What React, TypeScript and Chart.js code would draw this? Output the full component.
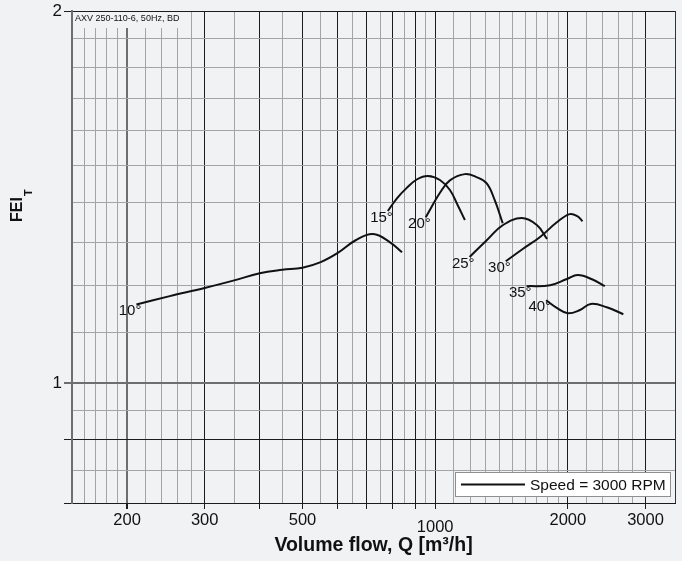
import React, { useEffect, useRef } from 'react';
import { Chart, registerables } from 'chart.js';

Chart.register(...registerables);

const FONT = '"Liberation Sans", Arial, Helvetica, sans-serif';
const BG = '#f1f2f4';

// ---- data ----
const angleLabels = ['10°', '15°', '20°', '25°', '30°', '35°', '40°'];

const flow10 = [210, 250, 300, 350, 400, 450, 500, 550, 600, 660, 723, 790, 841];
const fei10 = [1.158, 1.176, 1.194, 1.211, 1.227, 1.235, 1.24, 1.253, 1.274, 1.305, 1.32, 1.3, 1.276];

const flow15 = [781, 819, 861, 910, 963, 1025, 1080, 1125, 1168];
const fei15 = [1.378, 1.411, 1.438, 1.462, 1.471, 1.46, 1.433, 1.393, 1.355];

const flow20 = [952, 1027, 1080, 1168, 1240, 1309, 1365, 1423];
const fei20 = [1.362, 1.427, 1.459, 1.476, 1.468, 1.451, 1.406, 1.347];

const flow25 = [1197, 1309, 1423, 1571, 1703, 1794];
const fei25 = [1.265, 1.305, 1.342, 1.36, 1.342, 1.308];

const flow30 = [1446, 1580, 1730, 1891, 2019, 2100, 2159];
const fei30 = [1.255, 1.284, 1.313, 1.35, 1.37, 1.365, 1.352];

const flow35 = [1612, 1822, 1990, 2106, 2275, 2426];
const fei35 = [1.198, 1.2, 1.214, 1.223, 1.213, 1.198];

const flow40 = [1785, 1891, 2000, 2130, 2255, 2451, 2672];
const fei40 = [1.167, 1.15, 1.139, 1.146, 1.159, 1.152, 1.137];

const curveFlows = [flow10, flow15, flow20, flow25, flow30, flow35, flow40];
const curveFeis = [fei10, fei15, fei20, fei25, fei30, fei35, fei40];

const xGridValues = [150, 160, 170, 180, 190, 200, 220, 240, 260, 280, 300, 350, 400, 450, 500, 550, 600, 650, 700, 750, 800, 850, 900, 950, 1000, 1100, 1200, 1300, 1400, 1500, 1600, 1700, 1800, 1900, 2000, 2200, 2400, 2600, 2800, 3000, 3500];
const xMajorValues = [300, 400, 500, 600, 700, 800, 900, 1000, 2000, 3000];
const xLabelValues = [200, 300, 500, 1000, 2000, 3000];
const xTickMarkValues = [200, 300, 400, 500, 600, 700, 800, 900, 1000, 2000, 3000];

const yGridValues = [0.8, 0.85, 0.9, 0.95, 1, 1.1, 1.2, 1.3, 1.4, 1.5, 1.6, 1.7, 1.8, 1.9, 2];
const yMajorValues = [0.8, 0.9, 2];
const yLabelValues = [1, 2];
const yTickMarkValues = [0.8, 0.9, 1, 2];

const legendText = 'Speed = 3000 RPM';
const noteText = 'AXV 250-110-6, 50Hz, BD';
const xTitle = 'Volume flow, Q [m³/h]';
const yTitleMain = 'FEI';
const yTitleSub = 'T';

const GRID_MINOR = '#a4a4a4';
const GRID_MAJOR = '#1c1c1c';
const GRID_MID = '#6e6e6e';

const decorPlugin = {
  id: 'decor',
  beforeDraw(chart: any) {
    const { ctx, width, height } = chart;
    ctx.save();
    ctx.fillStyle = BG;
    ctx.fillRect(0, 0, width, height);
    ctx.restore();
  },
  afterDatasetsDraw(chart: any) {
    const { ctx } = chart;
    const xs = chart.scales.x;
    const ys = chart.scales.y;
    ctx.save();
    ctx.font = '15px ' + FONT;
    ctx.fillStyle = '#111';
    ctx.textAlign = 'right';
    ctx.textBaseline = 'top';
    curveFlows.forEach((fl, i) => {
      const px = xs.getPixelForValue(fl[0]);
      const py = ys.getPixelForValue(curveFeis[i][0]);
      ctx.fillText(angleLabels[i], px + 5, py - 1);
    });
    ctx.restore();
  },
  afterDraw(chart: any) {
    const { ctx, chartArea } = chart;
    ctx.save();
    // note box
    ctx.fillStyle = BG;
    ctx.fillRect(chartArea.left + 1, chartArea.top + 1, 108, 16);
    ctx.fillStyle = '#111';
    ctx.font = '9px ' + FONT;
    ctx.textAlign = 'left';
    ctx.textBaseline = 'middle';
    ctx.fillText(noteText, chartArea.left + 3, chartArea.top + 8);

    // legend
    const lw = 216, lh = 25;
    const lx = chartArea.right - 4 - lw;
    const ly = chartArea.bottom - 6 - lh;
    ctx.fillStyle = '#ffffff';
    ctx.fillRect(lx, ly, lw, lh);
    ctx.strokeStyle = '#8f8f8f';
    ctx.lineWidth = 1;
    ctx.strokeRect(lx + 0.5, ly + 0.5, lw - 1, lh - 1);
    ctx.strokeStyle = '#111';
    ctx.lineWidth = 2;
    ctx.beginPath();
    ctx.moveTo(lx + 6, ly + lh / 2);
    ctx.lineTo(lx + 70, ly + lh / 2);
    ctx.stroke();
    ctx.fillStyle = '#111';
    ctx.font = '15.5px ' + FONT;
    ctx.textBaseline = 'middle';
    ctx.fillText(legendText, lx + 75, ly + lh / 2 + 1);

    // x title
    ctx.font = 'bold 19.5px ' + FONT;
    ctx.textAlign = 'center';
    ctx.textBaseline = 'alphabetic';
    ctx.fillText(xTitle, (chartArea.left + chartArea.right) / 2, 551);

    // y title
    ctx.translate(22, 222);
    ctx.rotate(-Math.PI / 2);
    ctx.textAlign = 'left';
    ctx.font = 'bold 16px ' + FONT;
    ctx.fillText(yTitleMain, 0, 0);
    const w = ctx.measureText(yTitleMain).width;
    ctx.font = 'bold 11px ' + FONT;
    ctx.fillText(yTitleSub, w + 1, 10);
    ctx.restore();
  },
};

export default function App() {
  const ref = useRef<HTMLCanvasElement | null>(null);

  useEffect(() => {
    document.body.style.margin = '0';
    document.body.style.background = BG;
    const canvas = ref.current;
    if (!canvas) return;

    const datasets = curveFlows.map((fl, i) => ({
      label: angleLabels[i],
      data: fl.map((x, j) => ({ x, y: curveFeis[i][j] })),
      borderColor: '#111',
      borderWidth: 2,
      pointRadius: 0,
      fill: false,
      tension: 0.4,
    }));

    const chart = new Chart(canvas, {
      type: 'line',
      data: { datasets },
      plugins: [decorPlugin],
      options: {
        responsive: false,
        animation: false,
        layout: { padding: { left: 0, top: 11, right: 7, bottom: 0 } },
        plugins: {
          legend: { display: false },
          tooltip: { enabled: false },
        },
        scales: {
          x: {
            type: 'logarithmic',
            min: 150,
            max: 3500,
            afterBuildTicks: (s: any) => {
              s.ticks = xGridValues.map((v) => ({ value: v }));
            },
            afterFit: (s: any) => {
              s.height = 58;
              s.paddingLeft = 0;
              s.paddingRight = 0;
            },
            border: { display: true, color: GRID_MAJOR, width: 1 },
            grid: {
              drawTicks: true,
              tickLength: 6,
              color: (c: any) => {
                const v = c.tick ? c.tick.value : null;
                if (v === 150 || v === 200) return GRID_MID;
                if (v === 3500) return '#333';
                if (xMajorValues.includes(v)) return GRID_MAJOR;
                return GRID_MINOR;
              },
              lineWidth: (c: any) => {
                const v = c.tick ? c.tick.value : null;
                return v === 200 || v === 150 ? 2 : 1;
              },
              tickColor: (c: any) => {
                const v = c.tick ? c.tick.value : null;
                return xTickMarkValues.includes(v) ? GRID_MAJOR : 'rgba(0,0,0,0)';
              },
            },
            ticks: {
              autoSkip: false,
              maxRotation: 0,
              padding: 2,
              color: '#111',
              font: (c: any) => ({
                family: FONT,
                size: 16.5,
                lineHeight: c.tick && c.tick.value === 1000 ? 2.0 : 1.2,
              }),
              callback: (v: any) => (xLabelValues.includes(Number(v)) ? String(v) : ''),
            },
          },
          y: {
            type: 'logarithmic',
            min: 0.8,
            max: 2,
            afterBuildTicks: (s: any) => {
              s.ticks = yGridValues.map((v) => ({ value: v }));
            },
            afterFit: (s: any) => {
              s.width = 72;
              s.paddingTop = 0;
              s.paddingBottom = 0;
            },
            border: { display: true, color: GRID_MID, width: 2 },
            grid: {
              drawTicks: true,
              tickLength: 8,
              color: (c: any) => {
                const v = c.tick ? c.tick.value : null;
                if (v === 1) return GRID_MID;
                if (yMajorValues.includes(v)) return GRID_MAJOR;
                return GRID_MINOR;
              },
              lineWidth: (c: any) => {
                const v = c.tick ? c.tick.value : null;
                return v === 1 ? 2 : 1;
              },
              tickColor: (c: any) => {
                const v = c.tick ? c.tick.value : null;
                if (v === 1) return GRID_MID;
                return yTickMarkValues.includes(v) ? GRID_MAJOR : 'rgba(0,0,0,0)';
              },
            },
            ticks: {
              autoSkip: false,
              padding: 2,
              color: '#111',
              font: { family: FONT, size: 17 },
              callback: (v: any) => (yLabelValues.includes(Number(v)) ? String(v) : ''),
            },
          },
        },
      },
    });

    return () => chart.destroy();
  }, []);

  return (
    <div style={{ width: 682, height: 561 }}>
      <canvas ref={ref} width={682} height={561} style={{ display: 'block' }} />
    </div>
  );
}
